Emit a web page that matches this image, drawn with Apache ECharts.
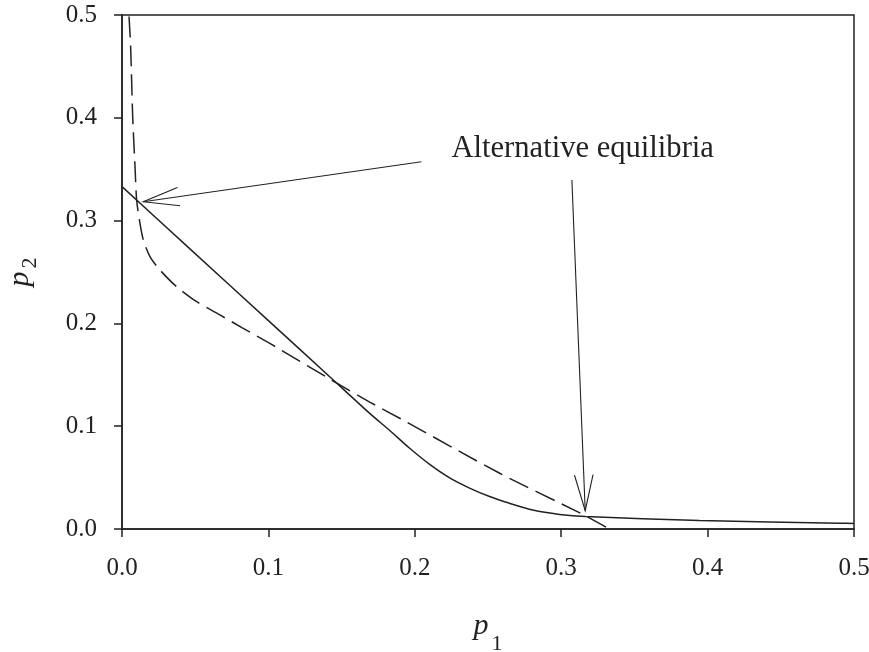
<!DOCTYPE html>
<html>
<head>
<meta charset="utf-8">
<script src="https://cdn.jsdelivr.net/npm/echarts@6/dist/echarts.min.js"></script>
<style>html,body{margin:0;padding:0;background:#fff}#c{width:869px;height:652px}</style>
</head>
<body>
<div id="c"></div>
<script>
// Solid curve (p1, p2)
var solidX = [0, 0.0464, 0.1, 0.143, 0.1692, 0.1829, 0.1965, 0.2102, 0.2238, 0.2374, 0.2511, 0.2647, 0.2806, 0.2989, 0.3166, 0.3944, 0.49, 0.5];
var solidY = [0.333, 0.2725, 0.2027, 0.1467, 0.1125, 0.0958, 0.0785, 0.0628, 0.0497, 0.0398, 0.0316, 0.025, 0.0184, 0.0142, 0.0121, 0.0083, 0.0056, 0.0054];
// Dashed curve (p1, p2)
var dashX = [0.0048, 0.0059, 0.0073, 0.0089, 0.0100, 0.0123, 0.0146, 0.0191, 0.0259, 0.0373, 0.051, 0.0669, 0.0828, 0.101, 0.143, 0.1692, 0.19, 0.258, 0.311, 0.3166, 0.333];
var dashY = [0.4986, 0.469, 0.401, 0.3525, 0.320, 0.297, 0.281, 0.265, 0.252, 0.2357, 0.2211, 0.2082, 0.1952, 0.1805, 0.145, 0.1235, 0.1075, 0.0542, 0.0169, 0.0128, 0.0];
// Axis ticks
var xTicks = [0, 0.1, 0.2, 0.3, 0.4, 0.5];
var yTicks = [0, 0.1, 0.2, 0.3, 0.4, 0.5];
// Annotation
var noteText = 'Alternative equilibria';
var notePos = [0.225, 0.3696];
// Arrows: [tailX, tailY, tipX, tipY]
var arrow1 = [0.2045, 0.3573, 0.01455, 0.3184];
var arrow2 = [0.3073, 0.3395, 0.3164, 0.0178];

function pairs(xs, ys) { return xs.map(function (x, i) { return [x, ys[i]]; }); }

var FONT = '"Liberation Serif", "Times New Roman", serif';
var INK = '#222';

function nameRich(subLH, padL) {
  return {
    p: { fontFamily: FONT, fontStyle: 'italic', fontSize: 30, color: INK, lineHeight: 30, verticalAlign: 'top' },
    s: { fontFamily: FONT, fontSize: 22, color: INK, lineHeight: subLH, verticalAlign: 'bottom', padding: [0, 0, 0, padL] }
  };
}

var chart = echarts.init(document.getElementById('c'));
chart.setOption({
  animation: false,
  backgroundColor: '#fff',
  grid: { left: 122, right: 15, top: 15, bottom: 123, containLabel: false, outerBoundsMode: 'none',
          show: true, borderColor: INK, borderWidth: 1.5, backgroundColor: 'transparent' },
  xAxis: {
    type: 'value', min: xTicks[0], max: xTicks[xTicks.length - 1], interval: 0.1,
    axisLine: { show: true, lineStyle: { color: INK, width: 1.5 } },
    axisTick: { show: true, inside: false, length: 8, lineStyle: { color: INK, width: 1.5 } },
    axisLabel: { margin: 27, fontFamily: FONT, fontSize: 25, color: INK, formatter: function (v) { return v.toFixed(1); } },
    splitLine: { show: false },
    name: '{p|p}{s|1}', nameLocation: 'middle', nameGap: 82,
    nameTextStyle: { rich: nameRich(44, 3) }
  },
  yAxis: {
    type: 'value', min: yTicks[0], max: yTicks[yTicks.length - 1], interval: 0.1,
    axisLine: { show: true, lineStyle: { color: INK, width: 1.5 } },
    axisTick: { show: true, inside: false, length: 8, lineStyle: { color: INK, width: 1.5 } },
    axisLabel: { margin: 25, fontFamily: FONT, fontSize: 25, color: INK, formatter: function (v) { return v.toFixed(1); } },
    splitLine: { show: false },
    name: '{p|p}{s|2}', nameLocation: 'middle', nameGap: 81, nameRotate: 90,
    nameTextStyle: { rich: nameRich(36, 3) }
  },
  series: [
    {
      type: 'line', data: pairs(solidX, solidY), symbol: 'none', smooth: 0.25,
      lineStyle: { color: INK, width: 1.5 }, z: 3
    },
    {
      type: 'line', data: pairs(dashX, dashY), symbol: 'none', smooth: 0.25,
      lineStyle: { color: INK, width: 1.5, type: [21, 8] }, z: 3
    },
    {
      type: 'custom', data: [arrow1, arrow2], z: 4, clip: false,
      renderItem: function (params, api) {
        var tail = api.coord([api.value(0), api.value(1)]);
        var tip = api.coord([api.value(2), api.value(3)]);
        var ang = Math.atan2(tail[1] - tip[1], tail[0] - tip[0]);
        var L = 37, h = 14.5 * Math.PI / 180;
        var b1 = [tip[0] + L * Math.cos(ang + h), tip[1] + L * Math.sin(ang + h)];
        var b2 = [tip[0] + L * Math.cos(ang - h), tip[1] + L * Math.sin(ang - h)];
        var st = { stroke: INK, lineWidth: 1.1, fill: null };
        return { type: 'group', children: [
          { type: 'polyline', shape: { points: [tail, tip] }, style: st },
          { type: 'polyline', shape: { points: [b1, tip, b2] }, style: st }
        ] };
      }
    },
    {
      type: 'custom', data: [notePos], z: 5, clip: false,
      renderItem: function (params, api) {
        var p = api.coord([api.value(0), api.value(1)]);
        return { type: 'text', x: p[0], y: p[1], style: { text: noteText, font: '30.6px ' + FONT, fill: INK, align: 'left', verticalAlign: 'middle' } };
      }
    }
  ]
});
</script>
</body>
</html>
